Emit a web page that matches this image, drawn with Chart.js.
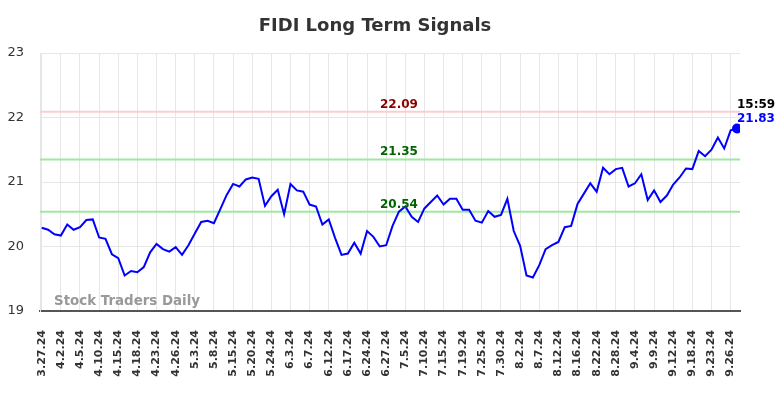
<!DOCTYPE html>
<html>
<head>
<meta charset="utf-8">
<title>FIDI Long Term Signals</title>
<script src="https://cdn.jsdelivr.net/npm/chart.js@4.4.1/dist/chart.umd.min.js"></script>
<style>
    html, body { margin: 0; padding: 0; background: #fff; }
    canvas { display: block; }
</style>
</head>
<body>
<canvas id="myChart" width="784" height="398"></canvas>
<script>
var titolo = "FIDI Long Term Signals";
var watermark = "Stock Traders Daily";

// tick labels, one every 3 points
var dateLabels = ["3.27.24", "4.2.24", "4.5.24", "4.10.24", "4.15.24", "4.18.24", "4.23.24",
    "4.26.24", "5.3.24", "5.8.24", "5.15.24", "5.20.24", "5.24.24", "6.3.24", "6.7.24",
    "6.12.24", "6.17.24", "6.24.24", "6.27.24", "7.5.24", "7.10.24", "7.15.24", "7.19.24",
    "7.25.24", "7.30.24", "8.2.24", "8.7.24", "8.12.24", "8.16.24", "8.22.24", "8.28.24",
    "9.4.24", "9.9.24", "9.12.24", "9.18.24", "9.23.24", "9.26.24"];

// closing prices
var prezzi = [20.29, 20.26, 20.19, 20.17, 20.34, 20.26, 20.30, 20.41, 20.42, 20.14,
    20.12, 19.88, 19.82, 19.55, 19.62, 19.60, 19.68, 19.91, 20.04, 19.96,
    19.92, 19.99, 19.87, 20.02, 20.20, 20.38, 20.40, 20.36, 20.58, 20.80,
    20.97, 20.93, 21.04, 21.07, 21.05, 20.63, 20.78, 20.88, 20.50, 20.97,
    20.87, 20.85, 20.65, 20.62, 20.34, 20.42, 20.13, 19.87, 19.89, 20.06,
    19.89, 20.24, 20.15, 20.00, 20.02, 20.32, 20.54, 20.62, 20.46, 20.38,
    20.59, 20.69, 20.79, 20.65, 20.74, 20.74, 20.57, 20.57, 20.40, 20.37,
    20.55, 20.46, 20.49, 20.74, 20.24, 20.01, 19.55, 19.52, 19.71, 19.96,
    20.02, 20.07, 20.30, 20.32, 20.66, 20.82, 20.98, 20.85, 21.22, 21.12,
    21.20, 21.22, 20.93, 20.98, 21.12, 20.72, 20.87, 20.69, 20.79, 20.96,
    21.07, 21.21, 21.20, 21.48, 21.40, 21.50, 21.69, 21.52, 21.80, 21.83];

var yTicks = [19, 20, 21, 22, 23];

// signal levels
var livelli = [22.09, 21.35, 20.54];
var coloriLinee = ["#ffcccc", "#a0e8a0", "#a0e8a0"];
var coloriTesto = ["#8b0000", "#006400", "#006400"];

var ultimoOrario = "15:59";

var punti = [];
for (var i = 0; i < prezzi.length; i++) {
    punti.push({ x: i, y: prezzi[i] });
}
var ultimo = prezzi.length - 1;

var decorazioni = {
    id: 'decorazioni',
    beforeDatasetsDraw: function (chart) {
        var ctx = chart.ctx;
        var area = chart.chartArea;
        var yScale = chart.scales.y;
        ctx.save();
        // watermark
        ctx.fillStyle = "#999";
        ctx.font = "bold 13.4px 'DejaVu Sans'";
        ctx.textAlign = "left";
        ctx.textBaseline = "middle";
        ctx.fillText(watermark, 54, 302);
        // level lines
        for (var i = 0; i < livelli.length; i++) {
            var y = yScale.getPixelForValue(livelli[i]);
            ctx.strokeStyle = coloriLinee[i];
            ctx.lineWidth = 2;
            ctx.beginPath();
            ctx.moveTo(area.left, y);
            ctx.lineTo(area.right, y);
            ctx.stroke();
        }
        ctx.restore();
    },
    afterDatasetsDraw: function (chart) {
        var ctx = chart.ctx;
        var xScale = chart.scales.x;
        var yScale = chart.scales.y;
        ctx.save();
        ctx.font = "bold 12px 'DejaVu Sans'";
        ctx.textAlign = "center";
        ctx.textBaseline = "alphabetic";
        var xc = xScale.getPixelForValue(56);
        for (var i = 0; i < livelli.length; i++) {
            ctx.fillStyle = coloriTesto[i];
            ctx.fillText(livelli[i].toFixed(2), xc, yScale.getPixelForValue(livelli[i]) - 4);
        }
        // last price
        var xl = xScale.getPixelForValue(ultimo);
        ctx.textAlign = "left";
        ctx.textBaseline = "middle";
        ctx.fillStyle = "#000";
        ctx.fillText(ultimoOrario, xl, 105);
        ctx.fillStyle = "#0000ff";
        ctx.fillText(prezzi[ultimo].toFixed(2), xl, 119);
        // title
        ctx.fillStyle = "#333";
        ctx.font = "bold 18px 'DejaVu Sans'";
        ctx.textAlign = "center";
        ctx.fillText(titolo, 375, 26);
        ctx.restore();
    }
};

var ctx = document.getElementById('myChart');
var chart = new Chart(ctx, {
    type: 'line',
    data: {
        datasets: [{
            data: punti,
            borderColor: '#0000ff',
            backgroundColor: '#0000ff',
            borderWidth: 2,
            tension: 0,
            pointRadius: function (c) { return c.dataIndex === ultimo ? 4 : 0; },
            pointHoverRadius: 0
        }]
    },
    options: {
        responsive: false,
        animation: false,
        layout: { padding: { top: 53, right: 44, left: 0, bottom: 0 } },
        plugins: {
            legend: { display: false },
            title: { display: false },
            tooltip: { enabled: false }
        },
        scales: {
            x: {
                type: 'linear',
                min: -0.27,
                max: 109.47,
                afterBuildTicks: function (scale) {
                    scale.ticks = dateLabels.map(function (l, i) { return { value: i * 3 }; });
                },
                afterFit: function (scale) { scale.height = 87; },
                grid: { color: '#e6e6e6', drawTicks: false },
                border: { color: '#555', width: 2 },
                ticks: {
                    autoSkip: false,
                    minRotation: 90,
                    maxRotation: 90,
                    padding: 19,
                    color: '#333',
                    font: { family: 'DejaVu Sans', size: 11, weight: 'bold' },
                    callback: function (value) { return dateLabels[Math.round(value / 3)]; }
                }
            },
            y: {
                min: 19,
                max: 23,
                afterBuildTicks: function (scale) {
                    scale.ticks = yTicks.map(function (v) { return { value: v }; });
                },
                afterFit: function (scale) { scale.width = 40; },
                grid: { color: '#e6e6e6', drawTicks: false },
                border: { color: '#e6e6e6' },
                ticks: {
                    padding: 16,
                    color: '#333',
                    font: { family: 'DejaVu Sans', size: 13 }
                }
            }
        }
    },
    plugins: [decorazioni]
});
</script>
</body>
</html>
